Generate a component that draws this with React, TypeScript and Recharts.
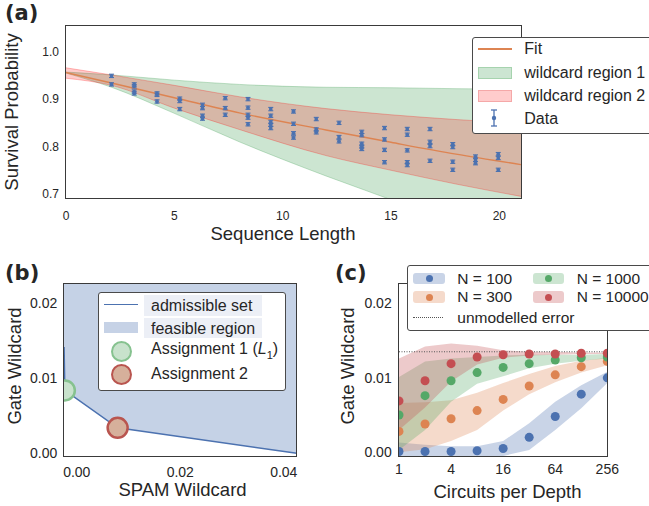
import React from 'react';
import { ComposedChart, Area, Line, Scatter, ErrorBar, XAxis, YAxis, ReferenceLine } from 'recharts';

const FONT = '"Liberation Sans", Arial, sans-serif';
const INK = '#262626';
const BLUE = '#4C72B0';
const ORANGE = '#DD8452';
const GREEN = '#55A868';
const RED = '#C44E52';

// ---- panel (a): survival vs sequence length
const seqLengths = [2.1, 3.15, 4.2, 5.25, 6.3, 7.35, 8.4, 9.45, 10.5, 11.55, 12.6, 13.65, 14.7, 15.75, 16.8, 17.85, 18.9, 19.95];
const survival = [
  [0.949, 0.931],
  [0.931, 0.927, 0.916, 0.912],
  [0.912, 0.909, 0.895],
  [0.901, 0.896, 0.879],
  [0.888, 0.881, 0.865, 0.859],
  [0.902, 0.881, 0.867],
  [0.9, 0.882, 0.867, 0.861, 0.847],
  [0.879, 0.865, 0.852, 0.846, 0.839],
  [0.874, 0.848, 0.828, 0.819],
  [0.858, 0.836, 0.83],
  [0.85, 0.82, 0.811],
  [0.831, 0.824, 0.806, 0.8, 0.795],
  [0.839, 0.815, 0.793, 0.767],
  [0.837, 0.825, 0.792, 0.767, 0.761],
  [0.837, 0.81, 0.801, 0.77],
  [0.805, 0.799, 0.768, 0.751],
  [0.779, 0.772, 0.765],
  [0.784, 0.776, 0.751],
];
const survivalErr = 0.0035;

const bandX = [0, 2.1, 5, 8, 12, 15, 18, 21];
const fitValues = [0.956, 0.934, 0.903, 0.871, 0.835, 0.809, 0.784, 0.762];
const region1Low = [0.955, 0.925, 0.87, 0.81, 0.738, 0.688, 0.635, 0.585];
const region1High = [0.957, 0.951, 0.94, 0.931, 0.925, 0.924, 0.922, 0.921];
const region2Low = [0.944, 0.929, 0.881, 0.836, 0.781, 0.75, 0.721, 0.695];
const region2High = [0.966, 0.951, 0.929, 0.905, 0.88, 0.867, 0.857, 0.849];

// ---- panel (b): wildcard budget
const admissibleSpam = [-0.00245, -0.0023, 0.0079, 0.0425];
const admissibleGate = [0.0142, 0.0084, 0.0034, 0.0];
const feasibleSpam = [-0.0026, -0.0023, 0.0079, 0.0425];
const feasibleGate = [0.0084, 0.0084, 0.0034, 0.0];
const assignment1 = { x: -0.0023, y: 0.0084 };
const assignment2 = { x: 0.0079, y: 0.0034 };

// ---- panel (c): gate wildcard vs circuits per depth
const circuits = [1, 2, 4, 8, 16, 32, 64, 128, 256];
const n100 = [0.0001, 0.0001, 0.0001, 0.0002, 0.0005, 0.002, 0.0048, 0.0078, 0.01];
const n100Lo = [-0.0006, -0.0006, -0.0006, -0.0006, -0.0005, 0.0003, 0.003, 0.0059, 0.0093];
const n100Hi = [0.0013, 0.001, 0.0008, 0.0008, 0.0015, 0.0039, 0.0068, 0.009, 0.0108];
const n300 = [0.0028, 0.0038, 0.0045, 0.0056, 0.0071, 0.0089, 0.0104, 0.0115, 0.0122];
const n300Lo = [0.0, 0.0004, 0.0015, 0.003, 0.0056, 0.0078, 0.0094, 0.0107, 0.0117];
const n300Hi = [0.0066, 0.0067, 0.007, 0.008, 0.0093, 0.0105, 0.0116, 0.0123, 0.0127];
const n1000 = [0.005, 0.0076, 0.0096, 0.0107, 0.0114, 0.0119, 0.0124, 0.0127, 0.0128];
const n1000Lo = [0.0003, 0.003, 0.0068, 0.0092, 0.0102, 0.0113, 0.0119, 0.0123, 0.0126];
const n1000Hi = [0.0101, 0.0122, 0.0126, 0.0128, 0.013, 0.0131, 0.0131, 0.0131, 0.0132];
const n10000 = [0.0069, 0.0096, 0.0119, 0.0128, 0.0131, 0.0132, 0.0132, 0.0133, 0.0133];
const n10000Lo = [0.003, 0.006, 0.0095, 0.0118, 0.0127, 0.013, 0.0131, 0.0132, 0.0132];
const n10000Hi = [0.0126, 0.0142, 0.0146, 0.0143, 0.0137, 0.0135, 0.0135, 0.0134, 0.0134];
const unmodelledError = 0.0135;

const bandTable = bandX.map((x, i) => ({
  x,
  fit: fitValues[i],
  r1: [region1Low[i], region1High[i]],
  r2: [region2Low[i], region2High[i]],
}));
const dataPoints = seqLengths.flatMap((x, i) => survival[i].map((y) => ({ x, y, err: survivalErr })));

const feasibleTable = feasibleSpam.map((x, i) => ({ x, region: [feasibleGate[i], 0.03] }));
const admissibleTable = admissibleSpam.map((x, i) => ({ x, y: admissibleGate[i] }));

const circuitTable = circuits.map((x, i) => ({
  x,
  n100: n100[i], b100: [n100Lo[i], n100Hi[i]],
  n300: n300[i], b300: [n300Lo[i], n300Hi[i]],
  n1000: n1000[i], b1000: [n1000Lo[i], n1000Hi[i]],
  n10000: n10000[i], b10000: [n10000Lo[i], n10000Hi[i]],
}));

const dot = (r: number, fill: string, stroke?: string, sw?: number) => (p: any) =>
  <circle cx={p.cx} cy={p.cy} r={r} fill={fill} stroke={stroke || 'none'} strokeWidth={sw || 0} />;

const Txt = ({ x, y, size = 16, anchor = 'start', bold = false, family = FONT, rotate, children }: any) => {
  const tx = anchor === 'middle' ? '-50%' : anchor === 'end' ? '-100%' : '0';
  return (
    <div style={{
      position: 'absolute', left: x, top: y, fontSize: size, lineHeight: 1, fontFamily: family,
      fontWeight: bold ? 700 : 400, color: INK, whiteSpace: 'nowrap',
      transform: `translate(${tx}, -50%)${rotate ? ` rotate(${rotate}deg)` : ''}`,
    }}>{children}</div>
  );
};

const Frame = ({ l, t, r, b }: any) => (
  <div style={{ position: 'absolute', left: l - 0.75, top: t - 0.75, width: r - l + 1.5, height: b - t + 1.5, border: '1.5px solid #3a3a3a', boxSizing: 'border-box' }} />
);

const Box = ({ l, t, w, h, children }: any) => (
  <div style={{ position: 'absolute', left: l, top: t, width: w, height: h, border: '1px solid #4a4a4a', borderRadius: 3, background: '#fff', boxSizing: 'border-box' }}>{children}</div>
);

const Abs = ({ l, t, w, h, style }: any) => (
  <div style={{ position: 'absolute', left: l, top: t, width: w, height: h, boxSizing: 'border-box', ...style }} />
);

const tickA = { fontSize: 12, fill: INK, fontFamily: FONT };
const tickBC = { fontSize: 14, fill: INK, fontFamily: FONT };
const fmt2 = (v: number) => v.toFixed(2);

export default function App() {
  return (
    <div style={{ position: 'absolute', left: 0, top: 0, width: 649, height: 506, overflow: 'hidden', background: '#fff' }}>
      {/* (a) */}
      <div style={{ position: 'absolute', left: 0, top: 0 }}>
        <ComposedChart width={649} height={250} data={bandTable} margin={{ top: 26, right: 128, bottom: 22, left: 0 }}>
          <XAxis type="number" dataKey="x" domain={[0, 21]} ticks={[0, 5, 10, 15, 20]} allowDataOverflow height={30}
            axisLine={false} tickLine={false} tickSize={0} tickMargin={13} tick={tickA} />
          <YAxis type="number" domain={[0.6916, 1.0541]} ticks={[0.7, 0.8, 0.9, 1.0]} allowDataOverflow width={66}
            axisLine={false} tickLine={false} tickSize={0} tickMargin={7} tick={tickA} tickFormatter={(v: number) => v.toFixed(1)} />
          <Area dataKey="r1" type="monotone" fill={GREEN} fillOpacity={0.3} stroke={GREEN} strokeOpacity={0.35} strokeWidth={1} isAnimationActive={false} />
          <Area dataKey="r2" type="monotone" fill="#ff0000" fillOpacity={0.2} stroke="#ff0000" strokeOpacity={0.25} strokeWidth={1} isAnimationActive={false} />
          <Line dataKey="fit" type="monotone" stroke={ORANGE} strokeWidth={1.4} dot={false} isAnimationActive={false} />
          <Scatter data={dataPoints} dataKey="y" fill={BLUE} shape={dot(1.9, BLUE)} isAnimationActive={false}>
            <ErrorBar dataKey="err" direction="y" width={2.5} stroke={BLUE} strokeWidth={1.1} />
          </Scatter>
        </ComposedChart>
      </div>
      <Frame l={66} t={26} r={521} b={198} />

      {/* (b) */}
      <div style={{ position: 'absolute', left: 0, top: 250 }}>
        <ComposedChart width={320} height={256} data={feasibleTable} margin={{ top: 33.3, right: 23.3, bottom: 19.3, left: 0 }}>
          <XAxis type="number" dataKey="x" domain={[-0.0026, 0.0425]} ticks={[0, 0.02, 0.04]} allowDataOverflow height={30}
            axisLine={false} tickLine={false} tickSize={0} tickMargin={10} tick={tickBC} tickFormatter={fmt2} />
          <YAxis type="number" domain={[-0.00045, 0.0227]} ticks={[0, 0.01, 0.02]} allowDataOverflow width={63.3}
            axisLine={false} tickLine={false} tickSize={0} tickMargin={6} tick={tickBC} tickFormatter={fmt2} />
          <Area dataKey="region" type="linear" fill={BLUE} fillOpacity={0.32} stroke="none" isAnimationActive={false} />
          <Line data={admissibleTable} dataKey="y" type="linear" stroke={BLUE} strokeWidth={1.5} dot={false} isAnimationActive={false} />
          <Scatter data={[assignment1]} dataKey="y" shape={dot(10, '#c8e2cc', '#86c28f', 2.5)} isAnimationActive={false} />
          <Scatter data={[assignment2]} dataKey="y" shape={dot(10, '#d6b09b', '#b9554f', 2.5)} isAnimationActive={false} />
        </ComposedChart>
      </div>
      <Frame l={63.3} t={283.3} r={296.7} b={456.7} />

      {/* (c) */}
      <div style={{ position: 'absolute', left: 320, top: 250 }}>
        <ComposedChart width={329} height={256} data={circuitTable} margin={{ top: 33.3, right: 41.7, bottom: 19.3, left: 0 }}>
          <XAxis type="number" scale="log" dataKey="x" domain={[1, 256]} ticks={[1, 4, 16, 64, 256]} allowDataOverflow height={30}
            axisLine={false} tickLine={false} tickSize={0} tickMargin={7} tick={tickBC} />
          <YAxis type="number" domain={[-0.0006, 0.0227]} ticks={[0, 0.01, 0.02]} allowDataOverflow width={79}
            axisLine={false} tickLine={false} tickSize={0} tickMargin={7.3} tick={tickBC} tickFormatter={fmt2} />
          <Area dataKey="b100" type="linear" fill={BLUE} fillOpacity={0.3} stroke="none" isAnimationActive={false} />
          <Area dataKey="b300" type="linear" fill={ORANGE} fillOpacity={0.3} stroke="none" isAnimationActive={false} />
          <Area dataKey="b1000" type="linear" fill={GREEN} fillOpacity={0.3} stroke="none" isAnimationActive={false} />
          <Area dataKey="b10000" type="linear" fill={RED} fillOpacity={0.3} stroke="none" isAnimationActive={false} />
          <ReferenceLine y={unmodelledError} stroke="#555" strokeWidth={1} strokeDasharray="1 1.5" />
          <Scatter data={circuitTable} dataKey="n100" shape={dot(4.5, BLUE)} isAnimationActive={false} />
          <Scatter data={circuitTable} dataKey="n300" shape={dot(4.5, ORANGE)} isAnimationActive={false} />
          <Scatter data={circuitTable} dataKey="n1000" shape={dot(4.5, GREEN)} isAnimationActive={false} />
          <Scatter data={circuitTable} dataKey="n10000" shape={dot(4.5, RED)} isAnimationActive={false} />
        </ComposedChart>
      </div>
      <Frame l={399} t={283.3} r={607.3} b={456.7} />

      {/* axis labels and panel letters */}
      <Txt x={5} y={12.8} size={21} bold family='"DejaVu Sans", sans-serif'>(a)</Txt>
      <Txt x={5} y={272.5} size={21} bold family='"DejaVu Sans", sans-serif'>(b)</Txt>
      <Txt x={335} y={272.5} size={21} bold family='"DejaVu Sans", sans-serif'>(c)</Txt>
      <Txt x={12} y={111.5} size={18.5} anchor="middle" rotate={-90}>Survival Probability</Txt>
      <Txt x={283} y={234} size={18.5} anchor="middle">Sequence Length</Txt>
      <Txt x={15} y={366} size={18.5} anchor="middle" rotate={-90}>Gate Wildcard</Txt>
      <Txt x={182.5} y={490} size={18.5} anchor="middle">SPAM Wildcard</Txt>
      <Txt x={348} y={366} size={18.5} anchor="middle" rotate={-90}>Gate Wildcard</Txt>
      <Txt x={507.5} y={491.5} size={18.5} anchor="middle">Circuits per Depth</Txt>

      {/* legend (a) */}
      <Box l={472} t={37} w={190} h={97} />
      <Abs l={478} t={48.3} w={34} h={1.5} style={{ background: ORANGE }} />
      <Abs l={478} t={67} w={34} h={11.5} style={{ background: '#cce5d2', border: '1px solid #a6d3ae' }} />
      <Abs l={478} t={90.3} w={34} h={11.5} style={{ background: '#ffcccc', border: '1px solid #f5a8a8' }} />
      <svg style={{ position: 'absolute', left: 488, top: 108 }} width={12} height={20}>
        <line x1={6} y1={2} x2={6} y2={18} stroke={BLUE} strokeWidth={1.3} />
        <line x1={3} y1={2} x2={9} y2={2} stroke={BLUE} strokeWidth={1.3} />
        <line x1={3} y1={18} x2={9} y2={18} stroke={BLUE} strokeWidth={1.3} />
        <circle cx={6} cy={10} r={2.2} fill={BLUE} />
      </svg>
      <Txt x={524.3} y={49} size={16}>Fit</Txt>
      <Txt x={524.3} y={72.7} size={16}>wildcard region 1</Txt>
      <Txt x={524.3} y={96} size={16}>wildcard region 2</Txt>
      <Txt x={524.3} y={118.7} size={16}>Data</Txt>

      {/* legend (b) */}
      <Box l={98.3} t={291.7} w={187.7} h={99} />
      <Abs l={144.3} t={295} w={117.4} h={20.7} style={{ background: '#eceff6' }} />
      <Abs l={144.3} t={318.3} w={117.4} h={20} style={{ background: '#eceff6' }} />
      <Abs l={104.3} t={303.5} w={33.4} h={1.5} style={{ background: BLUE }} />
      <Abs l={104.3} t={321.7} w={33.4} h={11} style={{ background: '#c6d2e6' }} />
      <Abs l={110.5} t={341.2} w={21} h={21} style={{ borderRadius: '50%', background: '#c8e2cc', border: '2.5px solid #86c28f' }} />
      <Abs l={110.5} t={363.8} w={21} h={21} style={{ borderRadius: '50%', background: '#d6b09b', border: '2.5px solid #b9554f' }} />
      <Txt x={151} y={305.5} size={16}>admissible set</Txt>
      <Txt x={151} y={329} size={16}>feasible region</Txt>
      <Txt x={151} y={351} size={16}>Assignment 1 (<i>L</i><sub style={{ fontSize: 11 }}>1</sub>)</Txt>
      <Txt x={151} y={374} size={16}>Assignment 2</Txt>

      {/* legend (c) */}
      <Box l={406.7} t={265} w={250} h={65.7} />
      {[
        { l: 413.3, y: 278.5, c: BLUE, label: 'N = 100' },
        { l: 413.3, y: 297, c: ORANGE, label: 'N = 300' },
        { l: 532.7, y: 278.5, c: GREEN, label: 'N = 1000' },
        { l: 532.7, y: 297, c: RED, label: 'N = 10000' },
      ].map((e) => (
        <React.Fragment key={e.label}>
          <Abs l={e.l} t={e.y - 5.7} w={31.7} h={11.4} style={{ background: e.c, opacity: 0.3, borderRadius: 3 }} />
          <Abs l={e.l + 12.3} t={e.y - 3.5} w={7} h={7} style={{ background: e.c, borderRadius: '50%' }} />
          <Txt x={e.l + 44} y={e.y} size={15.5}>{e.label}</Txt>
        </React.Fragment>
      ))}
      <Abs l={413} t={317} w={30} h={1} style={{ borderTop: '1px dotted #555' }} />
      <Txt x={457.3} y={317.5} size={15.5}>unmodelled error</Txt>
    </div>
  );
}
